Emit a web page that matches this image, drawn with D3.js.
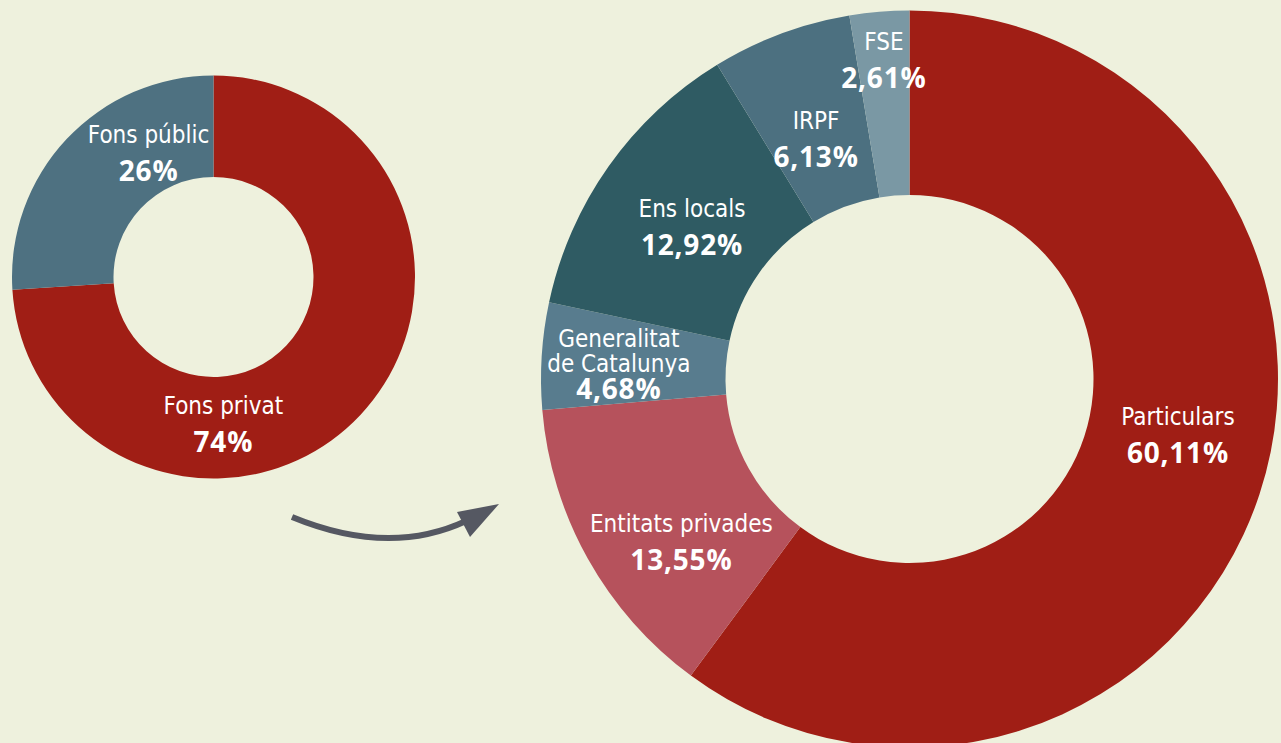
<!DOCTYPE html>
<html>
<head>
<meta charset="utf-8">
<script src="https://cdn.jsdelivr.net/npm/d3@7"></script>
<style>
  html, body { margin: 0; padding: 0; background: #eef1dd; }
  svg { display: block; }
  .name { font-family: "Liberation Sans Narrow", "DejaVu Sans Condensed", Lato, sans-serif; font-size: 24px; fill: #fff; }
  .pct { font-family: "Open Sans", Lato, sans-serif; font-size: 28px; font-weight: bold; letter-spacing: 0.8px; fill: #fff; }
</style>
</head>
<body>
<svg id="chart"></svg>
<script>
// Summary split
const fonsNames = [['Fons privat'], ['Fons públic']];
const fonsValues = [74, 26];
const fonsColors = ['#a01e15', '#4e7181'];
const fonsLabels = ['74%', '26%'];
const fonsNudge = [[-100, 34], [45, -31]];

// Detail split
const detailNames = [['Particulars'], ['Entitats privades'], ['Generalitat', 'de Catalunya'], ['Ens locals'], ['IRPF'], ['FSE']];
const detailValues = [60.11, 13.55, 4.68, 12.92, 6.13, 2.61];
const detailColors = ['#a01e15', '#b6525c', '#587c8e', '#2f5b63', '#4c7080', '#7a98a4'];
const detailLabels = ['60,11%', '13,55%', '4,68%', '12,92%', '6,13%', '2,61%'];
const detailNudge = [[6, -40], [13, 18], [-15, -15], [8, -2], [3, 9], [-3, -54]];

const width = 1281;
const height = 743;

const svg = d3.select('#chart')
  .attr('width', width)
  .attr('height', height);

svg.append('rect')
  .attr('width', width)
  .attr('height', height)
  .attr('fill', '#eef1dd');

function donut(cx, cy, inner, outer, names, values, colors, labels, nudge) {
  const pie = d3.pie().sort(null).value(d => d)(values);
  const arc = d3.arc().innerRadius(inner).outerRadius(outer);

  const g = svg.append('g')
    .attr('transform', `translate(${cx}, ${cy})`);

  g.selectAll('path')
    .data(pie)
    .enter().append('path')
      .attr('d', arc)
      .attr('fill', (d, i) => colors[i]);

  // labels sit on the slice centroid, nudged to where the original puts them
  const lbl = g.selectAll('g.lbl')
    .data(pie)
    .enter().append('g')
      .attr('class', 'lbl')
      .attr('transform', (d, i) => {
        const c = arc.centroid(d);
        return `translate(${c[0] + nudge[i][0]}, ${c[1] + nudge[i][1]})`;
      })
      .attr('text-anchor', 'middle');

  lbl.each(function(d, i) {
    const sel = d3.select(this);
    names[i].forEach((n, j) => {
      sel.append('text')
        .attr('class', 'name')
        .attr('y', j * 25)
        .text(n);
    });
    sel.append('text')
      .attr('class', 'pct')
      .attr('y', (names[i].length - 1) * 25 + (names[i].length > 1 ? 27 : 38))
      .text(labels[i]);
  });
}

donut(213.5, 277, 100, 201.5, fonsNames, fonsValues, fonsColors, fonsLabels, fonsNudge);
donut(909.5, 379, 184, 368.5, detailNames, detailValues, detailColors, detailLabels, detailNudge);

// Arrow between the two donuts
svg.append('path')
  .attr('d', 'M292,517 Q389,557 466,521')
  .attr('fill', 'none')
  .attr('stroke', '#555862')
  .attr('stroke-width', 6);
svg.append('path')
  .attr('d', 'M499,504 L457,512 L470,537 Z')
  .attr('fill', '#555862');
</script>
</body>
</html>
